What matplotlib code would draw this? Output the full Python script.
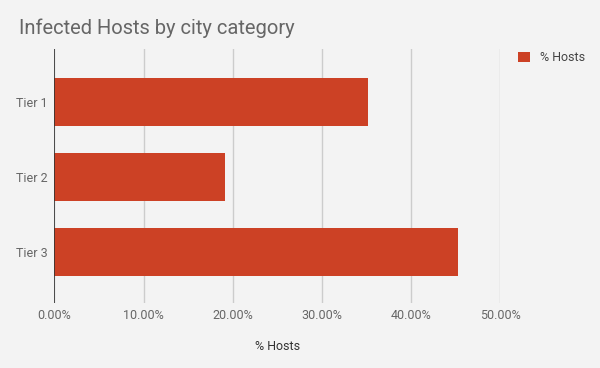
import matplotlib.pyplot as plt
from matplotlib.ticker import PercentFormatter

# data
tiers = ['Tier 1', 'Tier 2', 'Tier 3']
hosts_pct = [0.352, 0.191, 0.4525]
x_ticks = [0.0, 0.1, 0.2, 0.3, 0.4, 0.5]

bg = '#f3f3f3'
bar_color = '#cc4125'
text_gray = '#666666'

plt.rcParams['font.family'] = ['Roboto', 'DejaVu Sans']

fig = plt.figure(figsize=(6, 3.68), dpi=100, facecolor=bg)
ax = fig.add_axes([0.0908, 0.1766, 0.7425, 0.6902], facecolor=bg)

pos = list(range(len(tiers)))
ax.barh(pos, hosts_pct, height=0.645, color=bar_color, zorder=3, label='% Hosts')

ax.set_ylim(2.677, -0.709)
ax.set_xlim(0, 0.5)
ax.set_yticks(pos)
ax.set_yticklabels(tiers)
ax.set_xticks(x_ticks)
ax.xaxis.set_major_formatter(PercentFormatter(1.0, decimals=2))

ax.grid(axis='x', color='#cccccc', linewidth=1, zorder=0)
ax.axvline(0, color='#333333', linewidth=1.2, zorder=4)
for s in ax.spines.values():
    s.set_visible(False)
ax.tick_params(length=0, labelsize=9, labelcolor=text_gray)
ax.tick_params(axis='x', pad=4.5)
ax.tick_params(axis='y', pad=5)

ax.set_xlabel('% Hosts', fontsize=9, color='#333333', labelpad=12.5)

fig.text(19 / 600, 1 - 34 / 368, 'Infected Hosts by city category',
         fontsize=14.5, color='#666666', ha='left', va='baseline')

ax.legend(loc='upper left', bbox_to_anchor=(1.03, 1.01), frameon=False,
          fontsize=9, labelcolor='#444444', handlelength=0.9, handleheight=0.9,
          handletextpad=0.8, borderaxespad=0)

fig.savefig('out.png', dpi=100, facecolor=bg)
